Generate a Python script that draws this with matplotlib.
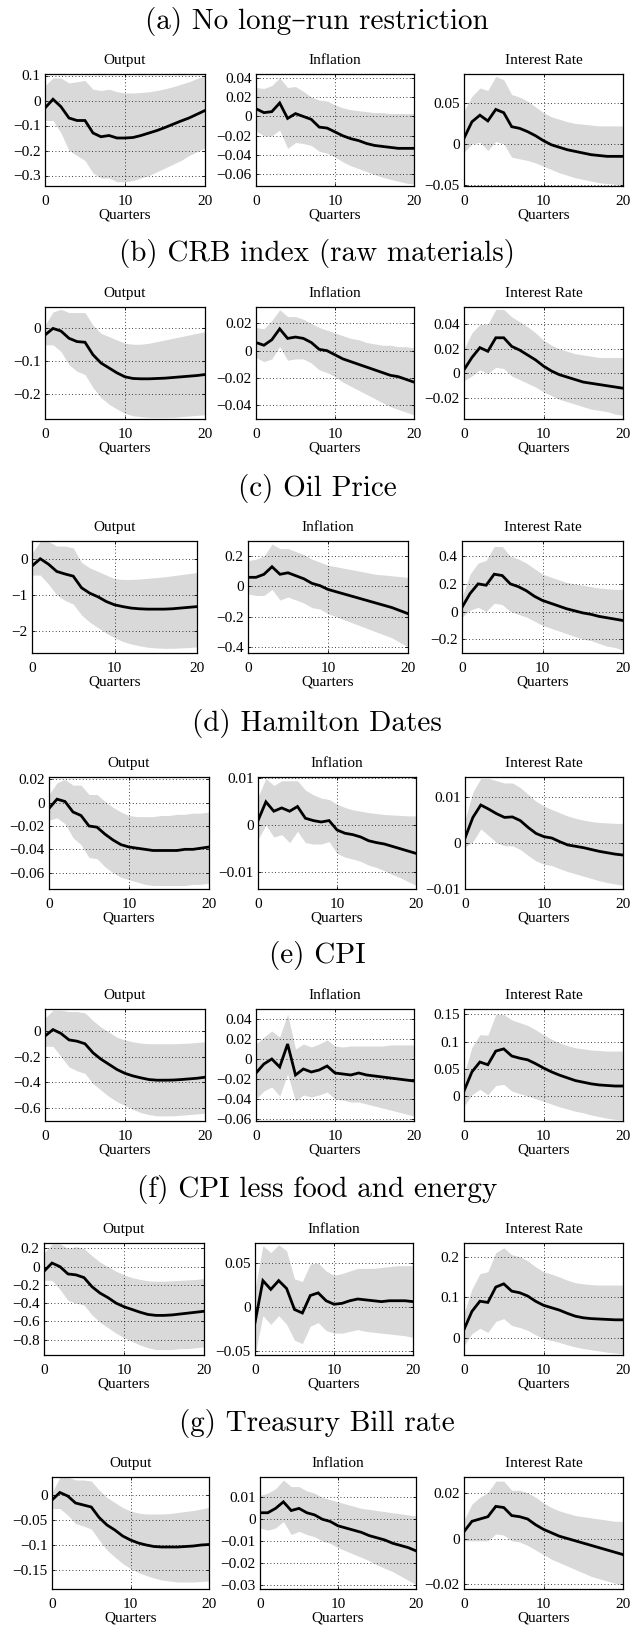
import matplotlib
matplotlib.use('Agg')
import matplotlib.pyplot as plt
from matplotlib.ticker import FuncFormatter

quarters = list(range(21))
row_titles = ['(a) No long\u2013run restriction', '(b) CRB index (raw materials)', '(c) Oil Price',
              '(d) Hamilton Dates', '(e) CPI', '(f) CPI less food and energy', '(g) Treasury Bill rate']
panel_titles = ['Output', 'Inflation', 'Interest Rate']

# ---- (a) No long-run restriction
a_out_mean = [-0.03, 0.005, -0.025, -0.07, -0.08, -0.08, -0.13, -0.145, -0.14, -0.15, -0.15, -0.148, -0.14, -0.13, -0.12, -0.108, -0.095, -0.082, -0.07, -0.055, -0.04]
a_out_hi = [0.06, 0.09, 0.09, 0.07, 0.075, 0.08, 0.045, 0.04, 0.045, 0.035, 0.03, 0.03, 0.032, 0.035, 0.04, 0.047, 0.055, 0.065, 0.075, 0.088, 0.1]
a_out_lo = [-0.08, -0.08, -0.13, -0.2, -0.22, -0.24, -0.29, -0.31, -0.31, -0.325, -0.325, -0.32, -0.31, -0.3, -0.285, -0.27, -0.255, -0.24, -0.22, -0.205, -0.19]
a_inf_mean = [0.008, 0.004, 0.005, 0.014, -0.002, 0.003, 0.0, -0.003, -0.011, -0.012, -0.016, -0.02, -0.023, -0.025, -0.028, -0.03, -0.031, -0.032, -0.033, -0.033, -0.033]
a_inf_hi = [0.03, 0.029, 0.032, 0.04, 0.03, 0.031, 0.026, 0.02, 0.017, 0.016, 0.012, 0.009, 0.007, 0.006, 0.005, 0.004, 0.004, 0.003, 0.003, 0.003, 0.003]
a_inf_lo = [-0.015, -0.02, -0.02, -0.014, -0.033, -0.027, -0.028, -0.03, -0.036, -0.038, -0.042, -0.047, -0.051, -0.054, -0.057, -0.06, -0.063, -0.065, -0.067, -0.069, -0.07]
a_int_mean = [0.007, 0.027, 0.035, 0.028, 0.042, 0.038, 0.021, 0.019, 0.015, 0.01, 0.004, -0.001, -0.004, -0.007, -0.009, -0.011, -0.013, -0.014, -0.015, -0.015, -0.015]
a_int_hi = [0.04, 0.058, 0.068, 0.065, 0.082, 0.078, 0.06, 0.057, 0.052, 0.045, 0.038, 0.033, 0.03, 0.027, 0.025, 0.024, 0.023, 0.022, 0.022, 0.022, 0.022]
a_int_lo = [-0.01, 0.0, 0.002, -0.008, 0.003, 0.0, -0.016, -0.018, -0.02, -0.023, -0.027, -0.031, -0.035, -0.038, -0.041, -0.043, -0.045, -0.047, -0.048, -0.049, -0.05]

# ---- (b) CRB index
b_out_mean = [-0.02, 0.0, -0.008, -0.03, -0.04, -0.042, -0.08, -0.105, -0.12, -0.135, -0.147, -0.152, -0.153, -0.153, -0.152, -0.151, -0.149, -0.147, -0.145, -0.143, -0.14]
b_out_hi = [0.01, 0.05, 0.058, 0.048, 0.048, 0.048, 0.01, -0.015, -0.025, -0.035, -0.045, -0.048, -0.048, -0.045, -0.04, -0.035, -0.03, -0.025, -0.02, -0.015, -0.01]
b_out_lo = [-0.05, -0.05, -0.07, -0.11, -0.13, -0.14, -0.18, -0.21, -0.23, -0.245, -0.258, -0.265, -0.268, -0.27, -0.27, -0.27, -0.27, -0.268, -0.266, -0.264, -0.262]
b_inf_mean = [0.006, 0.004, 0.008, 0.016, 0.009, 0.01, 0.009, 0.006, 0.001, 0.0, -0.003, -0.006, -0.008, -0.01, -0.012, -0.014, -0.016, -0.018, -0.019, -0.021, -0.023]
b_inf_hi = [0.017, 0.016, 0.022, 0.03, 0.025, 0.025, 0.023, 0.02, 0.017, 0.015, 0.013, 0.011, 0.009, 0.008, 0.006, 0.005, 0.004, 0.004, 0.003, 0.003, 0.002]
b_inf_lo = [-0.005, -0.008, -0.006, 0.003, -0.007, -0.006, -0.006, -0.009, -0.014, -0.016, -0.019, -0.023, -0.026, -0.029, -0.032, -0.035, -0.038, -0.041, -0.043, -0.045, -0.047]
b_int_mean = [0.003, 0.013, 0.021, 0.018, 0.029, 0.029, 0.022, 0.019, 0.015, 0.011, 0.006, 0.002, -0.001, -0.003, -0.005, -0.007, -0.008, -0.009, -0.01, -0.011, -0.012]
b_int_hi = [0.02, 0.033, 0.04, 0.04, 0.052, 0.052, 0.046, 0.042, 0.038, 0.033, 0.027, 0.023, 0.02, 0.018, 0.016, 0.015, 0.014, 0.013, 0.013, 0.013, 0.013]
b_int_lo = [-0.006, -0.002, 0.003, 0.0, 0.005, 0.004, -0.002, -0.005, -0.008, -0.011, -0.015, -0.018, -0.021, -0.023, -0.025, -0.027, -0.029, -0.03, -0.031, -0.033, -0.034]

# ---- (c) Oil price
c_out_mean = [-0.2, 0.0, -0.15, -0.35, -0.42, -0.48, -0.8, -0.95, -1.05, -1.18, -1.27, -1.32, -1.36, -1.38, -1.39, -1.39, -1.39, -1.38, -1.36, -1.34, -1.32]
c_out_hi = [0.15, 0.48, 0.48, 0.35, 0.35, 0.3, -0.1, -0.25, -0.35, -0.45, -0.55, -0.57, -0.57, -0.56, -0.54, -0.52, -0.5, -0.47, -0.44, -0.41, -0.38]
c_out_lo = [-0.45, -0.45, -0.7, -1.0, -1.15, -1.25, -1.55, -1.75, -1.9, -2.05, -2.18, -2.28, -2.35, -2.4, -2.44, -2.46, -2.47, -2.47, -2.46, -2.45, -2.43]
c_inf_mean = [0.06, 0.06, 0.08, 0.13, 0.08, 0.09, 0.07, 0.05, 0.02, 0.005, -0.02, -0.035, -0.05, -0.065, -0.08, -0.095, -0.11, -0.125, -0.14, -0.16, -0.18]
c_inf_hi = [0.17, 0.18, 0.2, 0.28, 0.25, 0.25, 0.23, 0.21, 0.18, 0.16, 0.14, 0.13, 0.12, 0.11, 0.1, 0.09, 0.08, 0.075, 0.07, 0.065, 0.06]
c_inf_lo = [-0.05, -0.06, -0.06, -0.02, -0.09, -0.07, -0.09, -0.11, -0.14, -0.15, -0.18, -0.2, -0.22, -0.24, -0.26, -0.28, -0.3, -0.32, -0.34, -0.37, -0.4]
c_int_mean = [0.03, 0.13, 0.2, 0.19, 0.27, 0.26, 0.2, 0.18, 0.15, 0.11, 0.08, 0.06, 0.04, 0.02, 0.005, -0.01, -0.02, -0.035, -0.045, -0.055, -0.065]
c_int_hi = [0.1, 0.27, 0.35, 0.37, 0.47, 0.47, 0.4, 0.38, 0.35, 0.31, 0.27, 0.25, 0.23, 0.21, 0.2, 0.19, 0.18, 0.17, 0.165, 0.16, 0.16]
c_int_lo = [-0.04, 0.01, 0.03, 0.0, 0.06, 0.05, 0.0, -0.02, -0.04, -0.07, -0.1, -0.12, -0.14, -0.16, -0.18, -0.2, -0.21, -0.23, -0.25, -0.26, -0.28]

# ---- (d) Hamilton dates
d_out_mean = [-0.005, 0.003, 0.001, -0.008, -0.011, -0.02, -0.021, -0.027, -0.032, -0.036, -0.038, -0.039, -0.04, -0.041, -0.041, -0.041, -0.041, -0.04, -0.04, -0.039, -0.038]
d_out_hi = [0.007, 0.017, 0.02, 0.015, 0.015, 0.007, 0.007, 0.001, -0.004, -0.008, -0.011, -0.012, -0.012, -0.012, -0.011, -0.011, -0.01, -0.01, -0.009, -0.009, -0.008]
d_out_lo = [-0.015, -0.013, -0.018, -0.03, -0.036, -0.047, -0.048, -0.055, -0.06, -0.064, -0.066, -0.068, -0.07, -0.071, -0.071, -0.071, -0.071, -0.071, -0.07, -0.07, -0.069]
d_inf_mean = [0.001, 0.005, 0.003, 0.0037, 0.003, 0.004, 0.0015, 0.001, 0.0007, 0.001, -0.001, -0.0017, -0.002, -0.0025, -0.0033, -0.0037, -0.004, -0.0045, -0.005, -0.0055, -0.006]
d_inf_hi = [0.006, 0.01, 0.0085, 0.0095, 0.0095, 0.0095, 0.0075, 0.0065, 0.0058, 0.0055, 0.0045, 0.0038, 0.0033, 0.003, 0.0027, 0.0025, 0.0023, 0.0022, 0.0021, 0.002, 0.002]
d_inf_lo = [-0.003, 0.0, -0.0025, -0.002, -0.0037, -0.0013, -0.0037, -0.004, -0.004, -0.0035, -0.006, -0.0068, -0.0072, -0.0077, -0.0085, -0.009, -0.0097, -0.0105, -0.0112, -0.012, -0.0128]
d_int_mean = [0.001, 0.0055, 0.0082, 0.0073, 0.0063, 0.0055, 0.0056, 0.0048, 0.0033, 0.002, 0.0013, 0.001, 0.0002, -0.0005, -0.0008, -0.0011, -0.0015, -0.0019, -0.0022, -0.0025, -0.0027]
d_int_hi = [0.005, 0.011, 0.014, 0.014, 0.0135, 0.013, 0.013, 0.012, 0.0105, 0.009, 0.008, 0.0072, 0.0065, 0.0058, 0.0053, 0.0049, 0.0046, 0.0044, 0.0043, 0.0042, 0.0042]
d_int_lo = [-0.001, 0.0002, 0.003, 0.0015, 0.0, -0.0007, -0.0007, -0.0015, -0.0028, -0.004, -0.0047, -0.005, -0.0057, -0.0063, -0.0068, -0.0073, -0.0078, -0.0083, -0.0087, -0.009, -0.0093]

# ---- (e) CPI
e_out_mean = [-0.04, 0.01, -0.02, -0.07, -0.08, -0.1, -0.17, -0.22, -0.26, -0.3, -0.33, -0.35, -0.365, -0.378, -0.383, -0.383, -0.382, -0.378, -0.373, -0.368, -0.36]
e_out_hi = [0.1, 0.16, 0.16, 0.15, 0.15, 0.14, 0.08, 0.03, -0.01, -0.05, -0.07, -0.085, -0.095, -0.1, -0.1, -0.1, -0.1, -0.098, -0.095, -0.09, -0.085]
e_out_lo = [-0.12, -0.12, -0.2, -0.28, -0.31, -0.33, -0.41, -0.46, -0.51, -0.55, -0.58, -0.61, -0.635, -0.65, -0.66, -0.66, -0.66, -0.655, -0.65, -0.645, -0.64]
e_inf_mean = [-0.014, -0.005, 0.0, -0.008, 0.015, -0.016, -0.01, -0.013, -0.011, -0.007, -0.014, -0.015, -0.016, -0.014, -0.016, -0.017, -0.018, -0.019, -0.02, -0.021, -0.022]
e_inf_hi = [0.015, 0.022, 0.028, 0.022, 0.045, 0.01, 0.015, 0.012, 0.015, 0.019, 0.013, 0.012, 0.013, 0.013, 0.013, 0.013, 0.013, 0.014, 0.014, 0.014, 0.014]
e_inf_lo = [-0.04, -0.032, -0.028, -0.037, -0.015, -0.042, -0.036, -0.038, -0.036, -0.033, -0.04, -0.041, -0.043, -0.043, -0.045, -0.047, -0.049, -0.051, -0.053, -0.055, -0.057]
e_int_mean = [0.01, 0.045, 0.063, 0.058, 0.083, 0.087, 0.074, 0.07, 0.067, 0.06, 0.052, 0.045, 0.039, 0.034, 0.029, 0.026, 0.023, 0.021, 0.02, 0.019, 0.019]
e_int_hi = [0.04, 0.09, 0.113, 0.112, 0.15, 0.15, 0.14, 0.135, 0.13, 0.122, 0.113, 0.105, 0.098, 0.093, 0.089, 0.087, 0.085, 0.084, 0.083, 0.083, 0.083]
e_int_lo = [-0.018, 0.003, 0.013, 0.003, 0.02, 0.022, 0.01, 0.005, 0.001, -0.004, -0.009, -0.014, -0.019, -0.023, -0.027, -0.03, -0.034, -0.037, -0.04, -0.042, -0.043]

# ---- (f) CPI less food and energy
f_out_mean = [-0.05, 0.04, 0.0, -0.08, -0.09, -0.12, -0.22, -0.29, -0.34, -0.4, -0.44, -0.47, -0.5, -0.525, -0.535, -0.535, -0.53, -0.52, -0.51, -0.5, -0.49]
f_out_hi = [0.15, 0.25, 0.25, 0.2, 0.22, 0.2, 0.12, 0.05, 0.0, -0.05, -0.09, -0.12, -0.14, -0.155, -0.16, -0.16, -0.155, -0.15, -0.145, -0.14, -0.13]
f_out_lo = [-0.15, -0.15, -0.25, -0.37, -0.4, -0.42, -0.53, -0.61, -0.67, -0.73, -0.78, -0.82, -0.86, -0.89, -0.91, -0.91, -0.91, -0.9, -0.9, -0.89, -0.88]
f_inf_mean = [-0.018, 0.03, 0.02, 0.03, 0.021, -0.003, -0.007, 0.013, 0.016, 0.007, 0.003, 0.004, 0.007, 0.009, 0.008, 0.007, 0.006, 0.007, 0.007, 0.007, 0.006]
f_inf_hi = [0.02, 0.07, 0.062, 0.071, 0.064, 0.032, 0.029, 0.049, 0.05, 0.041, 0.036, 0.038, 0.041, 0.044, 0.044, 0.044, 0.045, 0.046, 0.047, 0.047, 0.047]
f_inf_lo = [-0.055, -0.01, -0.02, -0.01, -0.02, -0.038, -0.042, -0.022, -0.018, -0.027, -0.03, -0.03, -0.028, -0.026, -0.028, -0.029, -0.03, -0.031, -0.032, -0.033, -0.035]
f_int_mean = [0.02, 0.065, 0.09, 0.087, 0.125, 0.133, 0.115, 0.111, 0.103, 0.09, 0.08, 0.074, 0.068, 0.06, 0.053, 0.049, 0.047, 0.046, 0.045, 0.044, 0.044]
f_int_hi = [0.06, 0.12, 0.158, 0.163, 0.21, 0.222, 0.205, 0.2, 0.19, 0.175, 0.163, 0.157, 0.15, 0.142, 0.136, 0.133, 0.131, 0.13, 0.13, 0.13, 0.13]
f_int_lo = [-0.02, 0.01, 0.023, 0.013, 0.04, 0.047, 0.03, 0.025, 0.018, 0.007, -0.003, -0.007, -0.012, -0.018, -0.023, -0.027, -0.03, -0.033, -0.036, -0.038, -0.04]

# ---- (g) Treasury bill rate
g_out_mean = [-0.01, 0.005, -0.002, -0.016, -0.02, -0.024, -0.045, -0.06, -0.07, -0.082, -0.09, -0.096, -0.1, -0.103, -0.104, -0.104, -0.104, -0.103, -0.102, -0.1, -0.099]
g_out_hi = [0.005, 0.035, 0.036, 0.03, 0.03, 0.028, 0.01, -0.005, -0.015, -0.025, -0.032, -0.036, -0.038, -0.038, -0.038, -0.037, -0.035, -0.033, -0.031, -0.028, -0.025]
g_out_lo = [-0.027, -0.027, -0.04, -0.057, -0.062, -0.068, -0.09, -0.11, -0.124, -0.137, -0.147, -0.155, -0.161, -0.166, -0.17, -0.172, -0.174, -0.174, -0.174, -0.173, -0.172]
g_inf_mean = [0.003, 0.003, 0.005, 0.008, 0.004, 0.005, 0.003, 0.002, 0.0, -0.001, -0.003, -0.004, -0.005, -0.006, -0.0075, -0.0085, -0.0095, -0.011, -0.012, -0.013, -0.0145]
g_inf_hi = [0.011, 0.012, 0.014, 0.018, 0.015, 0.015, 0.013, 0.012, 0.01, 0.009, 0.008, 0.007, 0.006, 0.005, 0.0045, 0.004, 0.0035, 0.003, 0.0025, 0.002, 0.0015]
g_inf_lo = [-0.004, -0.005, -0.004, -0.001, -0.007, -0.0055, -0.007, -0.008, -0.01, -0.011, -0.013, -0.0145, -0.016, -0.0175, -0.019, -0.021, -0.0225, -0.024, -0.026, -0.028, -0.03]
g_int_mean = [0.003, 0.0075, 0.0085, 0.0095, 0.014, 0.0135, 0.01, 0.0095, 0.0085, 0.006, 0.004, 0.0025, 0.001, 0.0, -0.001, -0.002, -0.003, -0.004, -0.005, -0.006, -0.007]
g_int_hi = [0.008, 0.015, 0.018, 0.02, 0.025, 0.025, 0.021, 0.021, 0.02, 0.018, 0.0155, 0.0135, 0.012, 0.011, 0.01, 0.0095, 0.009, 0.0085, 0.008, 0.0075, 0.0075]
g_int_lo = [-0.001, -0.001, -0.001, -0.001, 0.002, 0.0015, -0.001, -0.0015, -0.003, -0.005, -0.007, -0.009, -0.0105, -0.012, -0.0135, -0.015, -0.0165, -0.0175, -0.0185, -0.0195, -0.02]

# y ticks and limits per panel
a_yticks = [[-0.3, -0.2, -0.1, 0, 0.1], [-0.06, -0.04, -0.02, 0, 0.02, 0.04], [-0.05, 0, 0.05]]
b_yticks = [[-0.2, -0.1, 0], [-0.04, -0.02, 0, 0.02], [-0.02, 0, 0.02, 0.04]]
c_yticks = [[-2, -1, 0], [-0.4, -0.2, 0, 0.2], [-0.2, 0, 0.2, 0.4]]
d_yticks = [[-0.06, -0.04, -0.02, 0, 0.02], [-0.01, 0, 0.01], [-0.01, 0, 0.01]]
e_yticks = [[-0.6, -0.4, -0.2, 0], [-0.06, -0.04, -0.02, 0, 0.02, 0.04], [0, 0.05, 0.1, 0.15]]
f_yticks = [[-0.8, -0.6, -0.4, -0.2, 0, 0.2], [-0.05, 0, 0.05], [0, 0.1, 0.2]]
g_yticks = [[-0.15, -0.1, -0.05, 0], [-0.03, -0.02, -0.01, 0, 0.01], [-0.02, 0, 0.02]]

a_ylim = [(-0.342, 0.106), (-0.072, 0.044), (-0.051, 0.085)]
b_ylim = [(-0.275, 0.065), (-0.050, 0.032), (-0.037, 0.054)]
c_ylim = [(-2.6, 0.49), (-0.44, 0.30), (-0.30, 0.51)]
d_ylim = [(-0.074, 0.022), (-0.0136, 0.0103), (-0.0101, 0.0143)]
e_ylim = [(-0.70, 0.17), (-0.062, 0.050), (-0.045, 0.160)]
f_ylim = [(-0.97, 0.26), (-0.055, 0.073), (-0.043, 0.234)]
g_ylim = [(-0.188, 0.036), (-0.032, 0.0194), (-0.022, 0.0268)]

rows = [
    [(a_out_mean, a_out_lo, a_out_hi), (a_inf_mean, a_inf_lo, a_inf_hi), (a_int_mean, a_int_lo, a_int_hi)],
    [(b_out_mean, b_out_lo, b_out_hi), (b_inf_mean, b_inf_lo, b_inf_hi), (b_int_mean, b_int_lo, b_int_hi)],
    [(c_out_mean, c_out_lo, c_out_hi), (c_inf_mean, c_inf_lo, c_inf_hi), (c_int_mean, c_int_lo, c_int_hi)],
    [(d_out_mean, d_out_lo, d_out_hi), (d_inf_mean, d_inf_lo, d_inf_hi), (d_int_mean, d_int_lo, d_int_hi)],
    [(e_out_mean, e_out_lo, e_out_hi), (e_inf_mean, e_inf_lo, e_inf_hi), (e_int_mean, e_int_lo, e_int_hi)],
    [(f_out_mean, f_out_lo, f_out_hi), (f_inf_mean, f_inf_lo, f_inf_hi), (f_int_mean, f_int_lo, f_int_hi)],
    [(g_out_mean, g_out_lo, g_out_hi), (g_inf_mean, g_inf_lo, g_inf_hi), (g_int_mean, g_int_lo, g_int_hi)],
]
yticks_all = [a_yticks, b_yticks, c_yticks, d_yticks, e_yticks, f_yticks, g_yticks]
ylims_all = [a_ylim, b_ylim, c_ylim, d_ylim, e_ylim, f_ylim, g_ylim]

# layout (pixels)
W, H = 634, 1625
row_tops = [74, 307, 541, 777, 1009, 1243, 1477]
ax_h = 112
row_x = [
    [(45, 205), (256, 414), (464, 623)],
    [(45, 205), (256, 414), (464, 623)],
    [(32, 197), (248, 408), (462, 623)],
    [(49, 209), (258, 416), (465, 623)],
    [(45, 205), (256, 414), (464, 623)],
    [(44, 204), (255, 413), (464, 623)],
    [(52, 209), (260, 416), (464, 623)],
]

plt.rcParams['font.family'] = ['Liberation Serif', 'DejaVu Serif']
plt.rcParams['axes.unicode_minus'] = True

fig = plt.figure(figsize=(W / 100, H / 100), dpi=100)


def fmt(v, pos):
    if abs(v) < 1e-12:
        return '0'
    s = '%g' % round(v, 6)
    return s.replace('-', '\u2212')


band_color = '#d9d9d9'
for r in range(7):
    top = row_tops[r]
    fig.text(0.5, 1 - (top - 53) / H, row_titles[r], ha='center', va='center',
             fontsize=21, family=['cmr10', 'DejaVu Serif'])
    for c in range(3):
        l, rr = row_x[r][c]
        ax = fig.add_axes([l / W, 1 - (top + ax_h) / H, (rr - l) / W, ax_h / H])
        mean, lo, hi = rows[r][c]
        ax.fill_between(quarters, lo, hi, color=band_color, lw=0, zorder=1)
        ax.plot(quarters, mean, color='k', lw=2.0, zorder=3, solid_joinstyle='miter')
        ax.set_xlim(0, 20)
        ax.set_ylim(*ylims_all[r][c])
        ax.set_xticks([0, 10, 20])
        ax.set_yticks(yticks_all[r][c])
        ax.yaxis.set_major_formatter(FuncFormatter(fmt))
        ax.set_axisbelow(False)
        ax.grid(True, ls=(0, (1, 3)), color='k', lw=0.6, zorder=2)
        ax.tick_params(direction='in', length=2.5, width=0.6, top=True, right=True,
                       labelsize=11, pad=3)
        ax.tick_params(axis='x', pad=6.5)
        for sp in ax.spines.values():
            sp.set_linewidth(0.9)
            sp.set_zorder(4)
        ax.set_title(panel_titles[c], fontsize=11, pad=7)
        ax.set_xlabel('Quarters', fontsize=11, labelpad=0)

fig.savefig('out.png', dpi=100)
